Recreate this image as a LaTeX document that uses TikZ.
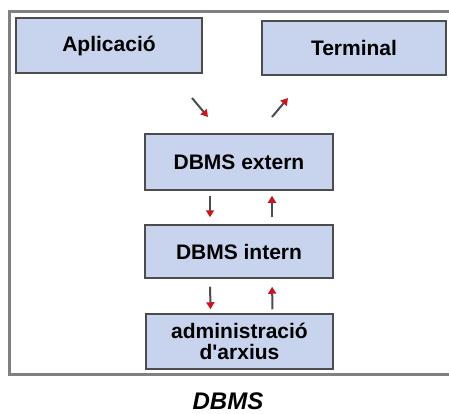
\documentclass[tikz,border=0pt]{standalone}
\usepackage{fontspec}
\setmainfont{Liberation Sans}
\usetikzlibrary{arrows.meta}
\definecolor{boxblue}{RGB}{200,212,238}
\definecolor{tipred}{RGB}{200,20,30}
\begin{document}
\begin{tikzpicture}[x=1pt,y=-1pt,
    layer/.style={draw=black!70,line width=1.5pt,fill=boxblue,inner sep=0pt,
      font=\fontsize{21}{21}\selectfont\bfseries,align=center},
    flow/.style={draw=black!70,line width=2pt,
      -{Triangle[length=7pt,width=8pt,color=tipred]}}]
    \useasboundingbox (0,0) rectangle (449,414);
    \draw [gray,line width=3pt] (452,12) -- (9,12) -- (9,374) -- (452,374);
    \node [layer,minimum width=186pt,minimum height=55pt] (app) at (109,45.5) {Aplicació};
    \node [layer,minimum width=184pt,minimum height=54pt] (term) at (354,48) {Terminal};
    \node [layer,minimum width=188pt,minimum height=56pt] (ext) at (239,162) {DBMS extern};
    \node [layer,minimum width=188pt,minimum height=53pt] (int) at (239,251.5) {DBMS intern};
    \node [layer,minimum width=187pt,minimum height=55pt] (adm) at (239.5,341.5) {administració\\d\textquotesingle arxius};
    \node [font=\fontsize{24}{24}\selectfont\bfseries\itshape] (cap) at (228,401) {DBMS};
    \coordinate (in1) at (192,98);
    \coordinate (in2) at (208,117);
    \coordinate (out1) at (272,117);
    \coordinate (out2) at (288,98);
    \draw [flow] (in1) -- (in2);
    \draw [flow] (out1) -- (out2);
    \draw [flow,shorten <=5pt,shorten >=7pt] ([xshift=-29pt]ext.south) -- ([xshift=-29pt]int.north);
    \draw [flow,shorten <=7pt,shorten >=5pt] ([xshift=33pt]int.north) -- ([xshift=33pt]ext.south);
    \draw [flow,shorten <=8pt,shorten >=4pt] ([xshift=-29pt]int.south) -- ([xshift=-29pt]adm.north);
    \draw [flow,shorten <=4pt,shorten >=8pt] ([xshift=33pt]adm.north) -- ([xshift=33pt]int.south);
  \end{tikzpicture}
\end{document}
